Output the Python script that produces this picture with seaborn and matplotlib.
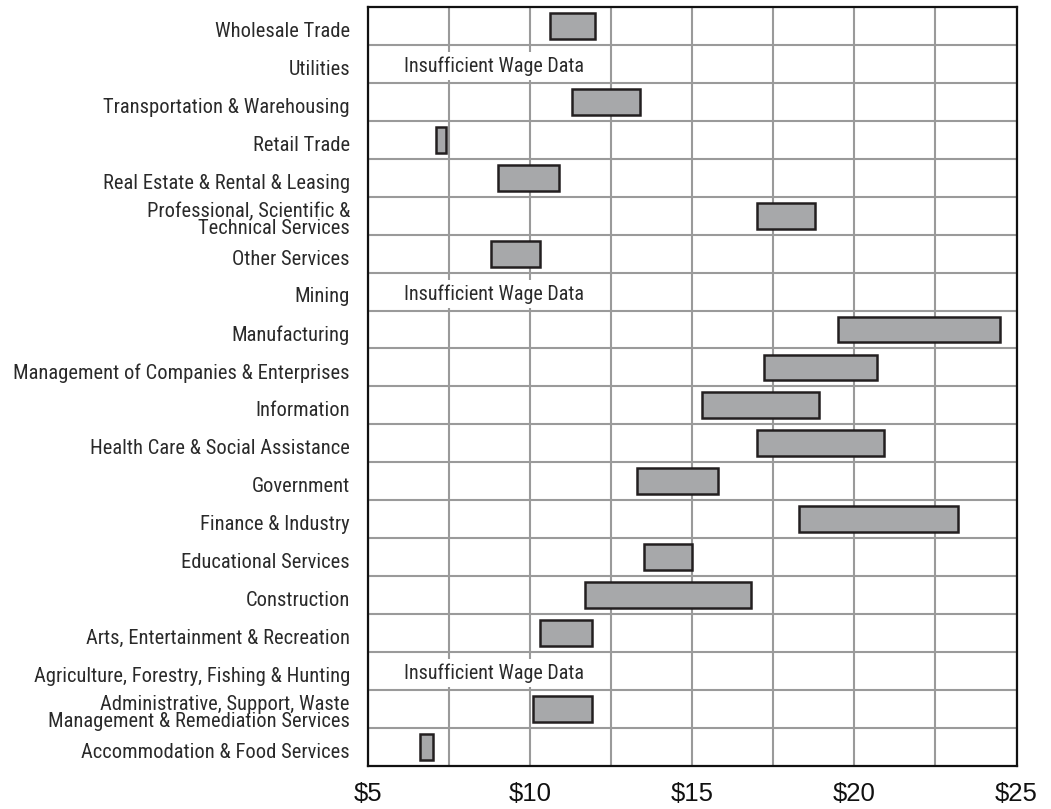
import matplotlib
matplotlib.use("Agg")
import matplotlib.pyplot as plt
import seaborn as sns
import pandas as pd
import numpy as np
from matplotlib import font_manager

categories = [
    "Wholesale Trade",
    "Utilities",
    "Transportation & Warehousing",
    "Retail Trade",
    "Real Estate & Rental & Leasing",
    "Professional, Scientific &\nTechnical Services",
    "Other Services",
    "Mining",
    "Manufacturing",
    "Management of Companies & Enterprises",
    "Information",
    "Health Care & Social Assistance",
    "Government",
    "Finance & Industry",
    "Educational Services",
    "Construction",
    "Arts, Entertainment & Recreation",
    "Agriculture, Forestry, Fishing & Hunting",
    "Administrative, Support, Waste\nManagement & Remediation Services",
    "Accommodation & Food Services",
]
wage_low = [10.6, None, 11.3, 7.1, 9.0, 17.0, 8.8, None, 19.5, 17.2,
            15.3, 17.0, 13.3, 18.3, 13.5, 11.7, 10.3, None, 10.1, 6.6]
wage_high = [12.0, None, 13.4, 7.4, 10.9, 18.8, 10.3, None, 24.5, 20.7,
             18.9, 20.9, 15.8, 23.2, 15.0, 16.8, 11.9, None, 11.9, 7.0]
x_ticks = [5, 10, 15, 20, 25]
x_tick_labels = ["$5", "$10", "$15", "$20", "$25"]
no_data_text = "Insufficient Wage Data"

sns.set_theme(style="white")
plt.rcParams["font.family"] = ["Liberation Sans", "DejaVu Sans"]

# pick a condensed sans face if one is installed
entries = font_manager.fontManager.ttflist
names = {f.name for f in entries}
label_font = {"family": ["Liberation Sans", "DejaVu Sans"]}
for cand in ["Liberation Sans Narrow", "Arial Narrow", "Roboto Condensed",
             "Open Sans Condensed", "DejaVu Sans Condensed", "Noto Sans Condensed"]:
    if cand in names:
        label_font = {"family": [cand, "DejaVu Sans"]}
        break
else:
    for f in entries:
        if f.name in ("Roboto", "Noto Sans", "DejaVu Sans", "Open Sans") and \
                str(f.stretch) in ("condensed", "semi-condensed", "75", "87.5"):
            label_font = {"family": [f.name, "DejaVu Sans"], "fontstretch": f.stretch}
            break

df = pd.DataFrame({"industry": categories, "low": wage_low, "high": wage_high})
have = df.dropna().copy()
have["span"] = have["high"] - have["low"]

fig = plt.figure(figsize=(10.51, 8.09), dpi=100)
renderer = fig.canvas.get_renderer()


def fit_size(text, target_px, max_size):
    t = fig.text(0, 0, text, fontsize=10, **label_font)
    w = t.get_window_extent(renderer).width
    t.remove()
    return min(max_size, 10 * target_px / w)


label_size = fit_size("Management of Companies & Enterprises", 332, 15.5)
note_size = fit_size(no_data_text, 179, 16.5)

ax = fig.add_axes([0.3501, 0.0535, 0.9672 - 0.3501, 0.9913 - 0.0535])

sns.barplot(data=have, x="span", y="industry", order=categories, orient="h",
            left=have["low"].to_numpy(), width=0.68, color="#a7a8aa",
            saturation=1, edgecolor="#231f20", linewidth=1.8, errorbar=None,
            zorder=3, ax=ax)

for i, row in df.iterrows():
    if pd.isna(row["low"]):
        ax.text(6.1, i + 0.06, no_data_text, ha="left", va="center",
                fontsize=note_size, color="#2a2a2a", zorder=4,
                bbox=dict(facecolor="white", edgecolor="none", pad=3), **label_font)

ax.set_xlim(5, 25)
ax.set_ylim(len(categories) - 0.5, -0.5)
ax.set_xticks(x_ticks)
ax.set_xticklabels(x_tick_labels, fontsize=18.5, color="#111111")
ax.set_xticks(np.arange(7.5, 25, 5), minor=True)
# labels sit slightly below the row centres, as in the source
ax.set_yticks(np.arange(len(categories)) + 0.09)
ax.set_yticklabels(categories, fontsize=label_size, color="#2a2a2a",
                   linespacing=0.85, ha="right", **label_font)
ax.set_yticks(np.arange(0.5, len(categories) - 0.5, 1), minor=True)
ax.set_xlabel("")
ax.set_ylabel("")

ax.set_axisbelow(True)
ax.grid(False)
ax.xaxis.grid(True, which="both", color="#9a9a9a", linewidth=1.5)
ax.yaxis.grid(True, which="minor", color="#9a9a9a", linewidth=1.5)
ax.tick_params(axis="both", which="both", length=0)
ax.tick_params(axis="y", pad=13)
ax.tick_params(axis="x", pad=12)
for s in ax.spines.values():
    s.set_visible(True)
    s.set_color("#111111")
    s.set_linewidth(1.6)
    s.set_zorder(5)

fig.savefig("out.png", dpi=100, facecolor="white")
